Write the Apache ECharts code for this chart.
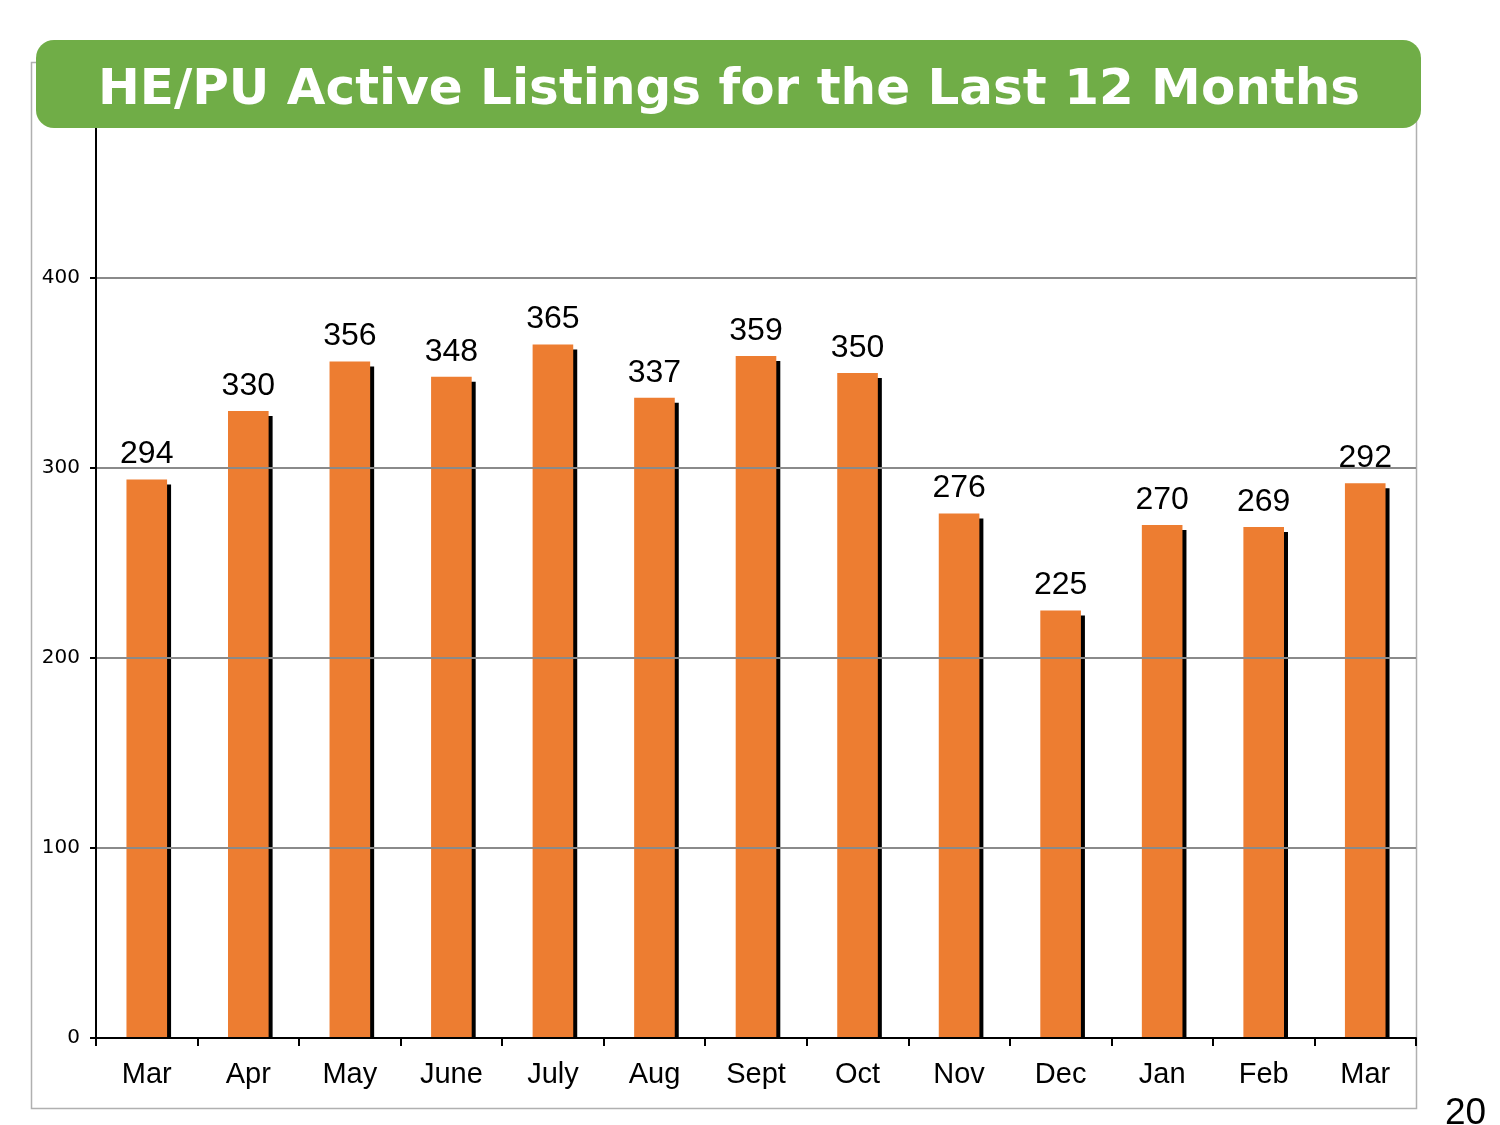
<!DOCTYPE html>
<html>
<head>
<meta charset="utf-8">
<script src="https://cdn.jsdelivr.net/npm/echarts@6/dist/echarts.min.js"></script>
<style>
html,body{margin:0;padding:0;background:#fff;}
#chart{width:1500px;height:1125px;}
</style>
</head>
<body>
<div id="chart"></div>
<script>
var titleText = "HE/PU Active Listings for the Last 12 Months";
var categories = ["Mar","Apr","May","June","July","Aug","Sept","Oct","Nov","Dec","Jan","Feb","Mar"];
var listings = [294,330,356,348,365,337,359,350,276,225,270,269,292];
var yTicks = [0,100,200,300,400];
var pageNumber = "20";

var chart = echarts.init(document.getElementById('chart'), null, {renderer:'canvas'});
chart.setOption({
  animation:false,
  backgroundColor:'#ffffff',
  grid:{left:96,right:84,top:88,bottom:87,containLabel:false},
  xAxis:{
    type:'category',
    data:categories,
    z:60,
    axisLine:{show:true,lineStyle:{color:'#000',width:2}},
    axisTick:{show:true,alignWithLabel:false,length:8,lineStyle:{color:'#000',width:2}},
    axisLabel:{color:'#000',fontSize:29,fontFamily:'Liberation Sans, Arial',margin:22,interval:0}
  },
  yAxis:{
    type:'value',
    min:0,max:500,interval:100,
    z:60,
    axisLine:{show:true,lineStyle:{color:'#000',width:2}},
    axisTick:{show:true,length:6,lineStyle:{color:'#000',width:2}},
    axisLabel:{color:'#000',fontSize:20,fontFamily:'DejaVu Sans, Verdana',margin:16,
      formatter:function(v){return yTicks.indexOf(v)>=0?String(v):'';}},
    splitLine:{show:true,lineStyle:{color:'#8a8a8a',width:2}}
  },
  series:[{
    type:'bar',
    data:listings,
    barWidth:'40%',
    itemStyle:{color:'#ED7D31',shadowColor:'#000',shadowBlur:0,shadowOffsetX:4,shadowOffsetY:5},
    label:{show:true,position:'top',distance:9,color:'#000',fontSize:32,fontFamily:'Liberation Sans, Arial'}
  }],
  graphic:[
    {type:'rect',z:-1,shape:{x:31.5,y:62.5,width:1385,height:1046},style:{fill:'none',stroke:'#b0b0b0',lineWidth:1.5}},
    {type:'rect',z:50,shape:{x:97,y:1039,width:1318,height:8},style:{fill:'#fff'}},
    {type:'rect',z:100,shape:{x:36,y:40,width:1385,height:88,r:18},style:{fill:'#70AD47'}},
    {type:'text',z:101,x:729,y:91,style:{text:titleText,fill:'#fff',font:'bold 50px "DejaVu Sans", Verdana, sans-serif',align:'center',verticalAlign:'middle'}},
    {type:'text',z:101,x:1445,y:1095,style:{text:pageNumber,fill:'#000',font:'37px "Liberation Sans", Arial, sans-serif'}}
  ]
});
</script>
</body>
</html>
